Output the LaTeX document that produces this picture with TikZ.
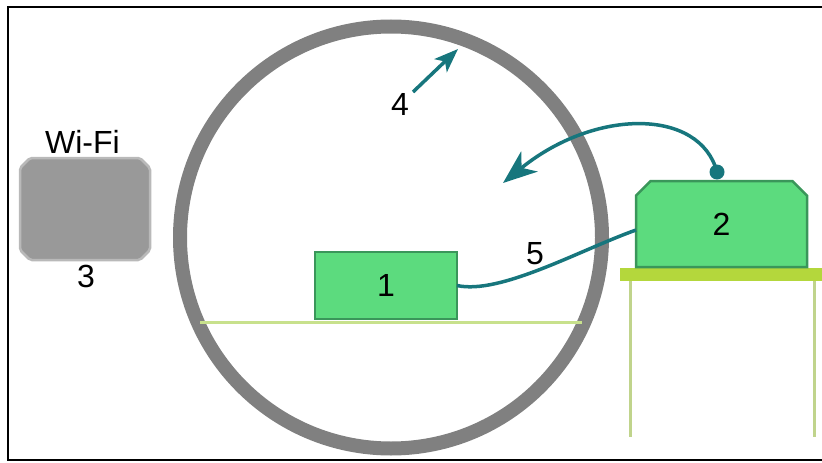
\documentclass[tikz,border=0pt]{standalone}
\usepackage{fontspec}
\setmainfont{Liberation Sans}
\usetikzlibrary{shapes.misc,arrows.meta}
\definecolor{tealc}{RGB}{23,118,125}
\definecolor{ringgray}{RGB}{128,128,128}
\definecolor{boxgreen}{RGB}{92,219,126}
\definecolor{boxedge}{RGB}{58,150,90}
\definecolor{floorc}{RGB}{200,225,140}
\definecolor{tabletop}{RGB}{180,215,60}
\definecolor{tableleg}{RGB}{192,212,140}
\definecolor{wififill}{RGB}{153,153,153}
\definecolor{wifiedge}{RGB}{185,185,185}
\tikzset{
  lbl/.style={inner sep=0pt, font=\fontsize{32}{38}\selectfont},
  greenbox/.style={draw=boxedge, fill=boxgreen, line width=2.5pt, inner sep=0pt, outer sep=0pt, font=\fontsize{32}{38}\selectfont},
  tealline/.style={draw=tealc, line width=3.5pt},
  wifibox/.style={draw=wifiedge, fill=wififill, line width=2.5pt, rounded corners=2pt},
}
\begin{document}
\begin{tikzpicture}[x=1pt,y=-1pt]
\useasboundingbox (0,0) rectangle (822,463);
% frame
\draw[line width=2pt] (822,7) -- (8,7) -- (8,460) -- (822,460);
% ring
\node[circle, draw=ringgray, line width=14pt, minimum size=422pt, inner sep=0pt, outer sep=0pt] (ring) at (391,237.5) {};
% floor inside ring
\draw[floorc, line width=3pt] (200,322) -- (582,322);
% table
\draw[tableleg, line width=3pt] (630,280) -- (630,437);
\draw[tableleg, line width=3pt] (814,280) -- (814,437);
\fill[tabletop] (620,268) rectangle (822,281);
% wifi box
\draw[wifibox] (30,158) -- (140,158) -- (150,168) -- (150,250) -- (140,260) -- (30,260) -- (20,250) -- (20,168) -- cycle;
\node[lbl] (wifilbl) at (82.5,141.5) {Wi-Fi};
\node[lbl] (three) at (86,276.5) {3};
% box 1
\node[greenbox, minimum width=142pt, minimum height=67pt] (b1) at (386,285.5) {1};
% box 2
\node[greenbox, chamfered rectangle, chamfered rectangle corners={north east, north west}, chamfered rectangle xsep=15pt, minimum width=171pt, minimum height=86pt] (b2) at (721.5,224) {2};
% cable 5
\coordinate (c5) at (636,230);
\draw[tealline] (b1.east) .. controls (500,295) and (580,250) .. (c5);
\node[lbl] (five) at (535,254) {5};
% curved arrow from device 2
\node[circle, fill=tealc, minimum size=15pt, inner sep=0pt] (dot) at (717,172) {};
\coordinate (t5) at (503,183);
\draw[tealline, -{Stealth[length=34pt,width=26pt,inset=10pt]}] (dot.center) .. controls (700,108) and (595,108) .. (t5);
% arrow 4
\coordinate (s4) at (413,92);
\coordinate (t4) at (458,49);
\draw[tealline, -{Stealth[length=24pt,width=18pt,inset=6pt]}] (s4) -- (t4);
\node[lbl] (four) at (400,104) {4};
\end{tikzpicture}
\end{document}
